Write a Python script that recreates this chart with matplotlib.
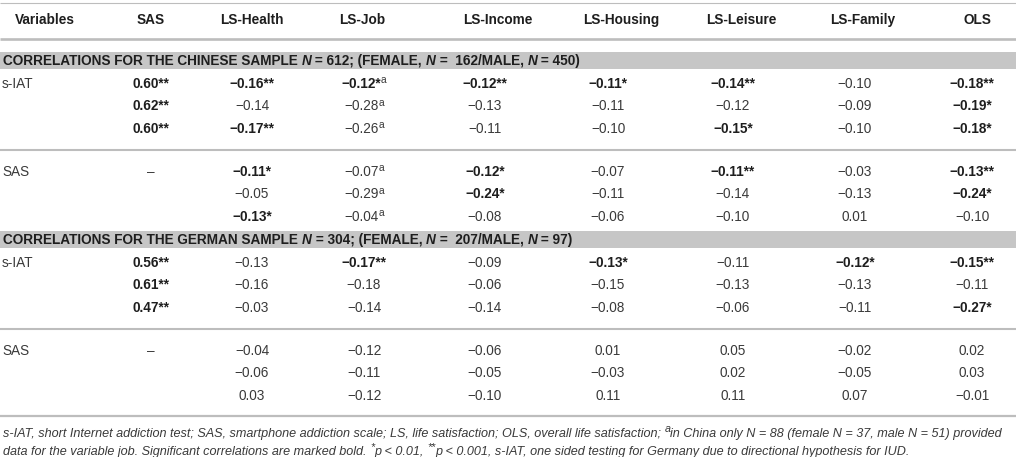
import numpy as np
import matplotlib
matplotlib.use("Agg")
import matplotlib.pyplot as plt

# ---------------- data ----------------
columns = ["SAS", "LS-Health", "LS-Job", "LS-Income", "LS-Housing",
           "LS-Leisure", "LS-Family", "OLS"]
row_labels = ["s-IAT", "SAS"]
section_names = ["CHINESE", "GERMAN"]
section_N = [612, 304]
section_female = [162, 207]
section_male = [450, 97]

nan = np.nan
cn_siat = [[0.60, -0.16, -0.12, -0.12, -0.11, -0.14, -0.10, -0.18],
           [0.62, -0.14, -0.28, -0.13, -0.11, -0.12, -0.09, -0.19],
           [0.60, -0.17, -0.26, -0.11, -0.10, -0.15, -0.10, -0.18]]
cn_siat_sig = [["**", "**", "*", "**", "*", "**", "", "**"],
               ["**", "", "", "", "", "", "", "*"],
               ["**", "**", "", "", "", "*", "", "*"]]
cn_sas = [[nan, -0.11, -0.07, -0.12, -0.07, -0.11, -0.03, -0.13],
          [nan, -0.05, -0.29, -0.24, -0.11, -0.14, -0.13, -0.24],
          [nan, -0.13, -0.04, -0.08, -0.06, -0.10, 0.01, -0.10]]
cn_sas_sig = [["", "*", "", "*", "", "**", "", "**"],
              ["", "", "", "*", "", "", "", "*"],
              ["", "*", "", "", "", "", "", ""]]
de_siat = [[0.56, -0.13, -0.17, -0.09, -0.13, -0.11, -0.12, -0.15],
           [0.61, -0.16, -0.18, -0.06, -0.15, -0.13, -0.13, -0.11],
           [0.47, -0.03, -0.14, -0.14, -0.08, -0.06, -0.11, -0.27]]
de_siat_sig = [["**", "", "**", "", "*", "", "*", "**"],
               ["**", "", "", "", "", "", "", ""],
               ["**", "", "", "", "", "", "", "*"]]
de_sas = [[nan, -0.04, -0.12, -0.06, 0.01, 0.05, -0.02, 0.02],
          [nan, -0.06, -0.11, -0.05, -0.03, 0.02, -0.05, 0.03],
          [nan, 0.03, -0.12, -0.10, 0.11, 0.11, 0.07, -0.01]]
de_sas_sig = [["", "", "", "", "", "", "", ""],
              ["", "", "", "", "", "", "", ""],
              ["", "", "", "", "", "", "", ""]]
# superscript note "a" on the job column of the Chinese sample
note_column = ["", "", "a", "", "", "", "", ""]

footnote_runs_1 = [
    ("s-IAT, short Internet addiction test; SAS, smartphone addiction scale; LS, life satisfaction; OLS, overall life satisfaction; ", False),
    ("a", True),
    ("in China only N = 88 (female N = 37, male N = 51) provided", False)]
footnote_runs_2 = [
    ("data for the variable job. Significant correlations are marked bold. ", False),
    ("*", True), ("p < 0.01, ", False), ("**", True),
    ("p < 0.001, s-IAT, one sided testing for Germany due to directional hypothesis for IUD.", False)]

# ---------------- layout ----------------
W, H = 1016, 457
FONT = ["Liberation Sans", "DejaVu Sans"]
FS = 9.8
TXT = "#3a3a3a"
DARK = "#1e1e1e"
LINE = "#bdbdbd"
BAND = "#c6c6c6"

header_centers = [151, 252, 362, 498, 621, 741, 863, 977]
value_centers = [151, 252, 364, 485, 608, 733, 855, 972]

fig = plt.figure(figsize=(W / 100, H / 100), dpi=100)
ax = fig.add_axes([0, 0, 1, 1])
ax.set_xlim(0, W)
ax.set_ylim(H, 0)
ax.axis("off")
renderer = fig.canvas.get_renderer()


def measure(s, **kw):
    t = ax.text(0, 0, "|" + s + "|", **kw)
    w1 = t.get_window_extent(renderer).width
    t.remove()
    t = ax.text(0, 0, "||", **kw)
    w2 = t.get_window_extent(renderer).width
    t.remove()
    return w1 - w2


def draw_runs(runs, x, yc, ha="left", fs=FS, sup_scale=0.75):
    # runs: (text, weight, style, sup, color)
    base = yc + 0.358 * fs * 100 / 72
    items = []
    for text, weight, style, sup, color in runs:
        size = fs * sup_scale if sup else fs
        kw = dict(fontsize=size, fontweight=weight, fontstyle=style,
                  family=FONT, color=color, va="baseline", ha="left")
        items.append((text, kw, sup, measure(text, **kw)))
    total = sum(it[3] for it in items)
    x0 = x - total / 2 if ha == "center" else x
    for text, kw, sup, w in items:
        yy = base - (0.33 * fs * 100 / 72 if sup else 0)
        ax.text(x0, yy, text, **kw)
        x0 += w
    return total


def hline(y, lw):
    ax.plot([0, W], [y, y], color=LINE, lw=lw, solid_capstyle="butt")


def fmt(v):
    return f"{v:.2f}".replace("-", "\u2212")


# header
hline(3, 0.8)
draw_runs([("Variables", "bold", "normal", False, DARK)], 45, 19, "center")
for c, name in zip(header_centers, columns):
    draw_runs([(name, "bold", "normal", False, DARK)], c, 19, "center")
hline(39, 1.9)

groups = [(cn_siat, cn_siat_sig, cn_sas, cn_sas_sig, True),
          (de_siat, de_siat_sig, de_sas, de_sas_sig, False)]
band_centers = [60, 239]
row_starts = [[83, 171], [262, 350]]
pitch = 22.4
mid_lines = [149.5, 328.5]

for gi, (siat, siat_sig, sas, sas_sig, with_note) in enumerate(groups):
    bc = band_centers[gi]
    ax.add_patch(plt.Rectangle((0, bc - 8.5), W, 17, color=BAND, lw=0))
    draw_runs([
        (f"CORRELATIONS FOR THE {section_names[gi]} SAMPLE ", "bold", "normal", False, DARK),
        ("N", "bold", "italic", False, DARK),
        (f" = {section_N[gi]}; (FEMALE, ", "bold", "normal", False, DARK),
        ("N", "bold", "italic", False, DARK),
        (f" =  {section_female[gi]}/MALE, ", "bold", "normal", False, DARK),
        ("N", "bold", "italic", False, DARK),
        (f" = {section_male[gi]})", "bold", "normal", False, DARK)], 3, bc)
    for bi, (vals, sigs) in enumerate([(siat, siat_sig), (sas, sas_sig)]):
        y0 = row_starts[gi][bi]
        draw_runs([(row_labels[bi], "normal", "normal", False, TXT)], 2, y0)
        for ri in range(3):
            y = y0 + ri * pitch
            for ci in range(len(columns)):
                v = vals[ri][ci]
                if np.isnan(v):
                    if ri == 0:
                        draw_runs([("\u2013", "normal", "normal", False, TXT)],
                                  value_centers[ci], y, "center")
                    continue
                s = sigs[ri][ci]
                bold = s != ""
                runs = [(fmt(v) + s, "bold" if bold else "normal", "normal",
                         False, DARK if bold else TXT)]
                if with_note and note_column[ci]:
                    runs.append((note_column[ci], "normal", "normal", True, TXT))
                draw_runs(runs, value_centers[ci], y, "center")
    hline(mid_lines[gi], 1.5)

hline(416, 1.6)

# footnotes (all italic), size fitted so that first line spans the width
fs_fn = 9.0
kw_fn = dict(fontsize=fs_fn, fontstyle="italic", family=FONT)
w1 = sum(measure(t, **dict(kw_fn, fontsize=fs_fn * (0.85 if sup else 1)))
         for t, sup in footnote_runs_1)
fs_fn = fs_fn * 1008 / w1
draw_runs([(t, "normal", "italic", sup, TXT) for t, sup in footnote_runs_1], 3, 432,
          fs=fs_fn, sup_scale=0.85)
draw_runs([(t, "normal", "italic", sup, TXT) for t, sup in footnote_runs_2], 3, 450,
          fs=fs_fn, sup_scale=0.85)

fig.savefig("out.png", dpi=100)
